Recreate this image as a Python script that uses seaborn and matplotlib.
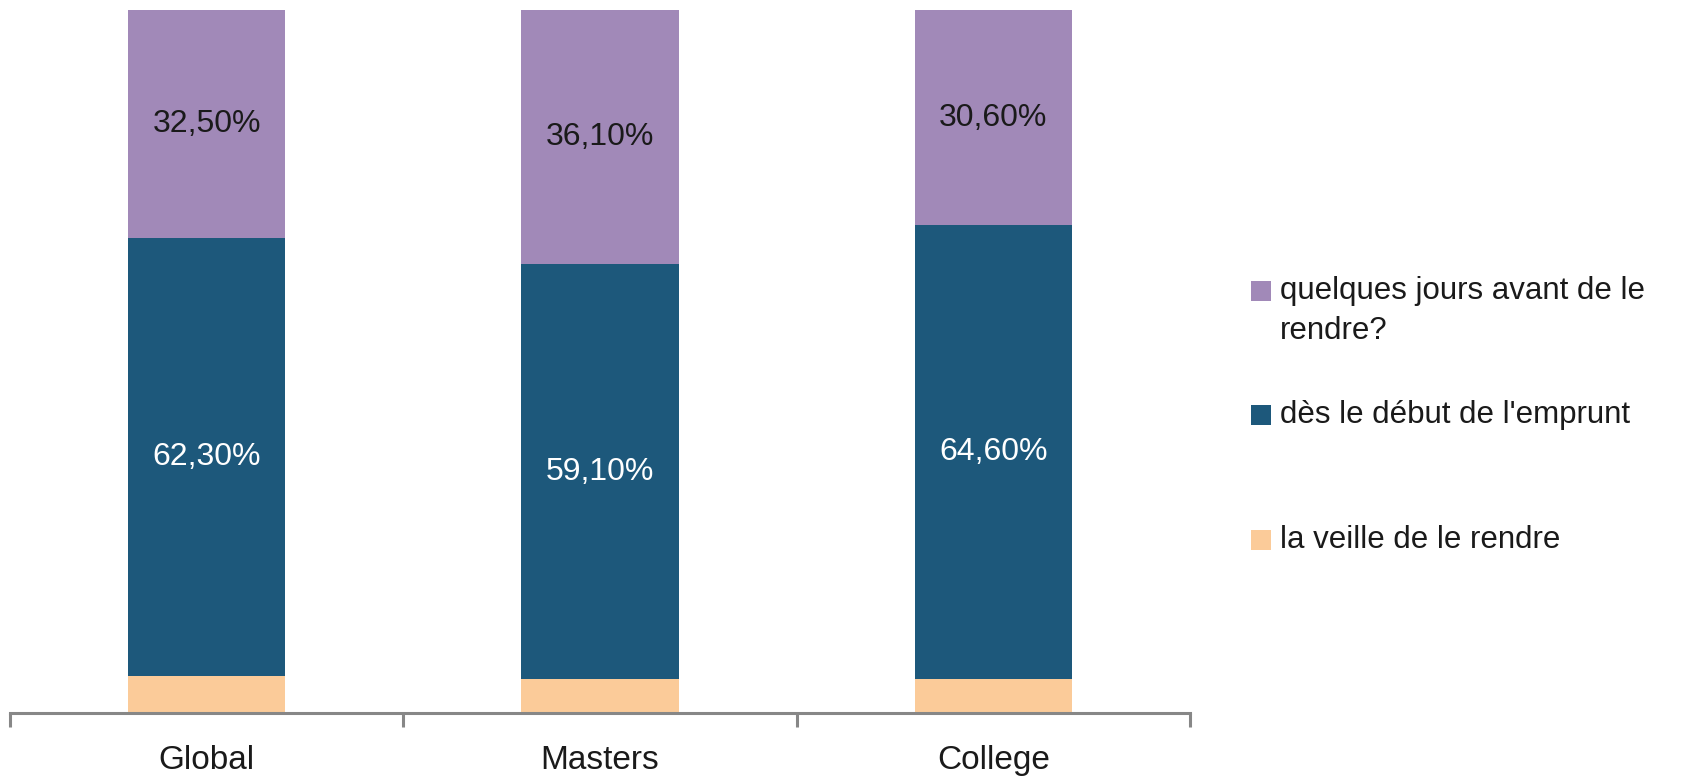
import matplotlib
matplotlib.use("Agg")
import matplotlib.pyplot as plt
from matplotlib.patches import Rectangle
from matplotlib.ticker import FixedLocator
import numpy as np
import pandas as pd
import seaborn as sns

# ─── Data ─────────────────────────────────────────────────────────────────────
categories = ["Global", "Masters", "College"]
veille     = [5.2, 4.8, 4.8]      # la veille de le rendre
debut      = [62.3, 59.1, 64.6]   # dès le début de l'emprunt
quelques   = [32.5, 36.1, 30.6]   # quelques jours avant de le rendre?

series_names = ["la veille de le rendre",
                "dès le début de l'emprunt",
                "quelques jours avant de le\nrendre?"]

# ─── Style ────────────────────────────────────────────────────────────────────
ORANGE = "#FBCB99"
BLUE   = "#1D587B"
PURPLE = "#A189B8"
AXIS   = "#878787"
TEXT   = "#1a1a1a"

sns.set_style("white")
plt.rcParams["font.family"] = ["Liberation Sans", "DejaVu Sans"]

df = pd.DataFrame({"cat": categories, "veille": veille,
                   "debut": debut, "quelques": quelques})
df["c1"] = df["veille"]
df["c2"] = df["c1"] + df["debut"]
df["c3"] = df["c2"] + df["quelques"]

fig = plt.figure(figsize=(16.95, 7.79), dpi=100)
fig.patch.set_facecolor("white")
ax = fig.add_axes([10 / 1695, 66 / 779, 1180 / 1695, 703 / 779])

# stacked bars drawn back to front from cumulative totals
for col, color in [("c3", PURPLE), ("c2", BLUE), ("c1", ORANGE)]:
    sns.barplot(data=df, x="cat", y=col, color=color, width=0.4,
                saturation=1, ax=ax, edgecolor="none", linewidth=0)

# value labels (middle of each segment)
for i in range(len(categories)):
    ax.text(i, df["c1"][i] + debut[i] / 2, f"{debut[i]:.2f}%".replace(".", ","),
            ha="center", va="center", fontsize=23, color="white")
    ax.text(i, df["c2"][i] + quelques[i] / 2, f"{quelques[i]:.2f}%".replace(".", ","),
            ha="center", va="center", fontsize=23, color=TEXT)

ax.set_xlim(-0.5, len(categories) - 0.5)
ax.set_ylim(0, 100)
ax.set_xlabel("")
ax.set_ylabel("")
ax.set_yticks([])
ax.xaxis.set_minor_locator(FixedLocator(np.arange(-0.5, len(categories), 1.0)))
ax.tick_params(axis="x", which="major", bottom=False, length=0, pad=23,
               labelsize=24, labelcolor=TEXT)
ax.tick_params(axis="x", which="minor", bottom=True, length=10, width=2.2,
               color=AXIS, direction="out")
for side in ["left", "right", "top"]:
    ax.spines[side].set_visible(False)
ax.spines["bottom"].set_color(AXIS)
ax.spines["bottom"].set_linewidth(2.2)

# legend (manual, to keep the wide spacing of the original)
legend_items = [(PURPLE, series_names[2], 291),
                (BLUE, series_names[1], 415),
                (ORANGE, series_names[0], 540)]
for color, label, yc in legend_items:
    fig.patches.append(Rectangle((1251 / 1695, 1 - (yc + 10) / 779),
                                 20 / 1695, 20 / 779, transform=fig.transFigure,
                                 facecolor=color, edgecolor="none"))
    fig.text(1280 / 1695, 1 - (yc - 15) / 779, label, ha="left", va="top",
             fontsize=22.5, color=TEXT, linespacing=1.45)

fig.savefig("out.png", dpi=100)
